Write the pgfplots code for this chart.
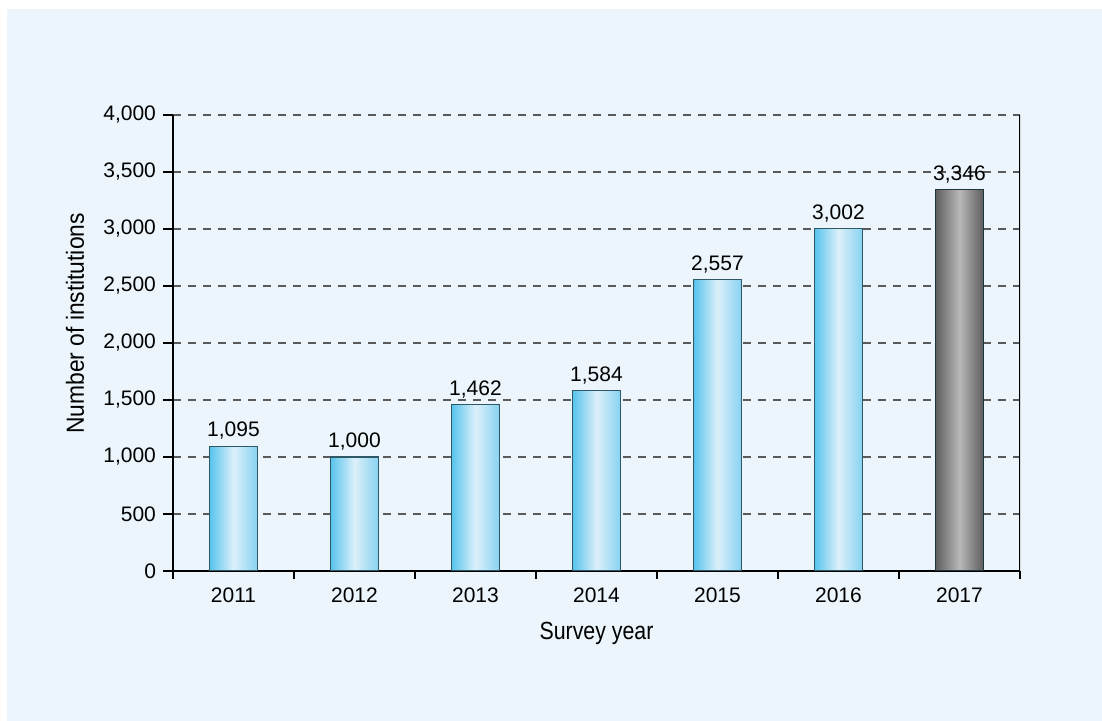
\documentclass[border=0pt]{standalone}
\usepackage{pgfplots}
\pgfplotsset{compat=1.18}
\usepackage{fontspec}
\setmainfont{Liberation Sans}
\newfontfamily\narrowfont[FakeStretch=0.86]{Liberation Sans}
\newfontfamily\ynarrowfont[FakeStretch=0.92]{Liberation Sans}
\definecolor{panel}{HTML}{EBF5FB}
\definecolor{barL}{HTML}{56C3EC}
\definecolor{barM}{HTML}{DCF0FA}
\definecolor{barR}{HTML}{86D2F1}
\definecolor{barEdge}{HTML}{2E5866}
\definecolor{grayL}{HTML}{5E5E5E}
\definecolor{grayM}{HTML}{B8B8B8}
\definecolor{grayR}{HTML}{5C5C5C}
\definecolor{gridc}{HTML}{5A5A5A}
\begin{document}
\begin{tikzpicture}
\path[use as bounding box] (-86.5pt,-75pt) rectangle (464.5pt,285.5pt);
\fill[white] (-86.5pt,-75pt) rectangle (464.5pt,285.5pt);
\fill[panel] (-83pt,-75pt) rectangle (464.5pt,281pt);
\begin{axis}[
  at={(0,0)}, anchor=south west,
  scale only axis, width=423.5pt, height=228pt,
  xmin=-0.5, xmax=6.5, ymin=0, ymax=4000,
  axis x line*=bottom, axis y line*=left,
  axis line style={line width=1.3pt, black},
  xtick={0,...,6},
  xticklabels={2011,2012,2013,2014,2015,2016,2017},
  major x tick style={draw=none},
  minor xtick={-0.5,0.5,...,6.5},
  minor x tick style={line width=1.1pt, black},
  ytick={0,500,...,4000},
  y tick style={line width=1.1pt, black},
  tick align=outside,
  minor tick length=4pt,
  major tick length=5pt,
  ymajorgrids,
  major grid style={gridc, line width=0.75pt, dash pattern=on 4pt off 3.5pt},
  /pgf/number format/.cd, 1000 sep={,}, assume math mode=true,
  /pgfplots/.cd,
  tick label style={font=\fontsize{10.5}{12}\selectfont},
  xticklabel style={yshift=0pt},
  every axis x label/.style={at={(axis description cs:0.5,-0.136)}, anchor=center},
  every axis y label/.style={at={(axis description cs:-0.1157,0.5428)}, rotate=90, anchor=center},
  xlabel style={font=\narrowfont\fontsize{12.4}{14}\selectfont},
  ylabel style={font=\ynarrowfont\fontsize{12.4}{14}\selectfont},
  xlabel={Survey year},
  ylabel={Number of institutions},
  nodes near coords,
  every node near coord/.append style={font=\fontsize{10.5}{12}\selectfont, black, inner sep=2pt, yshift=1pt},
  bar width=0.4,
  bluebar/.style={ybar, bar shift=0pt, draw=barEdge, line width=0.6pt, left color=barL, right color=barR, middle color=barM},
  graybar/.style={ybar, bar shift=0pt, draw=barEdge!60!black, line width=0.6pt, left color=grayL, right color=grayR, middle color=grayM},
]
\addplot[bluebar] coordinates {(0,1095)};
\addplot[bluebar] coordinates {(1,1000)};
\addplot[bluebar] coordinates {(2,1462)};
\addplot[bluebar] coordinates {(3,1584)};
\addplot[bluebar] coordinates {(4,2557)};
\addplot[bluebar] coordinates {(5,3002)};
\addplot[graybar] coordinates {(6,3346)};
\draw[line width=1.3pt, black] (axis cs:6.5,0) -- (axis cs:6.5,4000);
\end{axis}
\end{tikzpicture}
\end{document}
